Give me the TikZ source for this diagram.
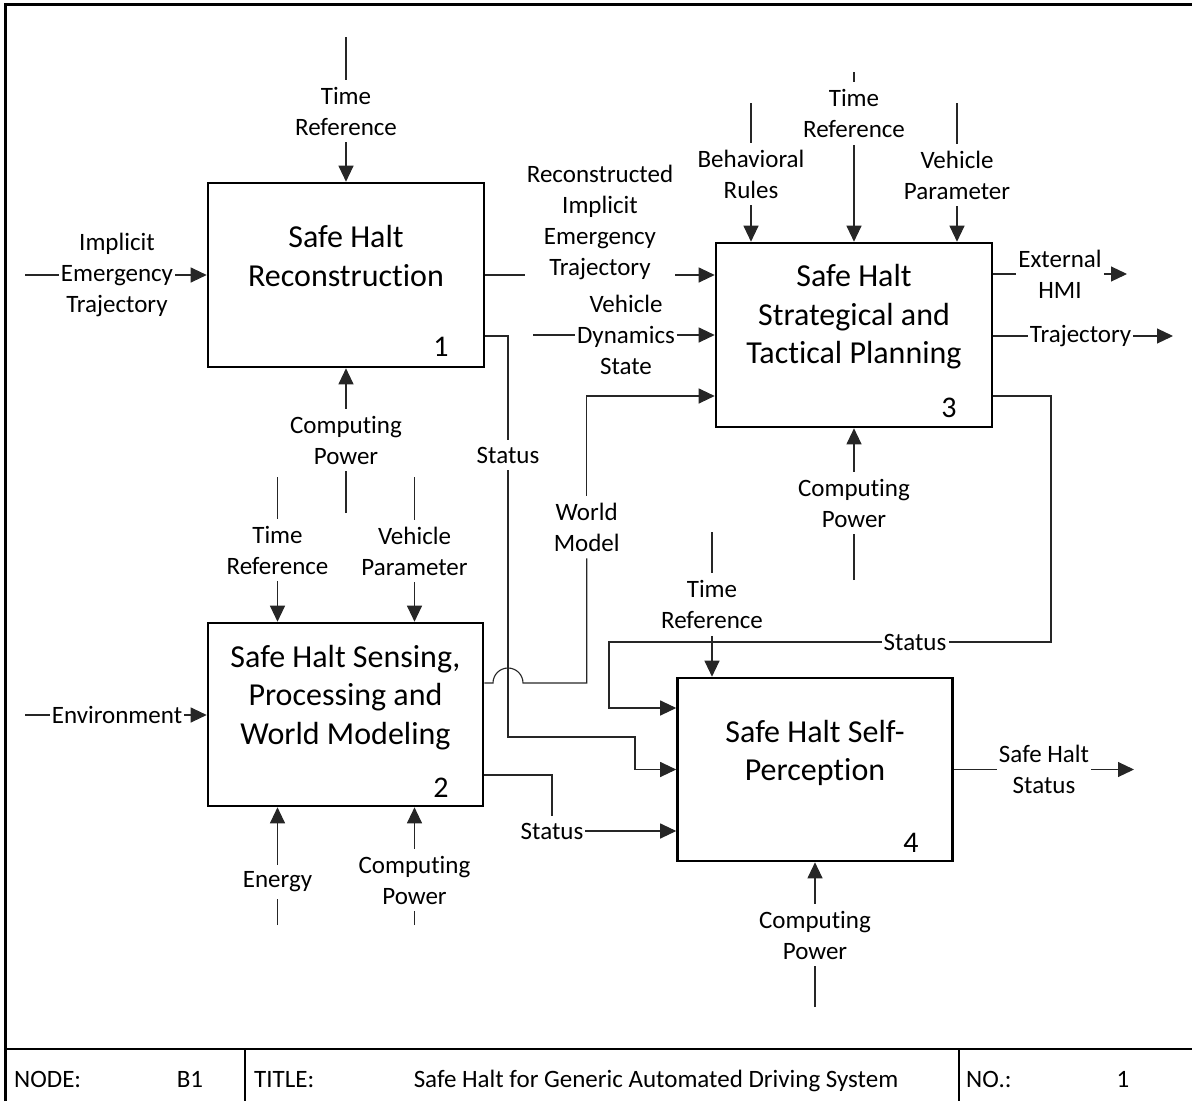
\documentclass[tikz,border=0pt]{standalone}
\usepackage{fontspec}
\setmainfont{Carlito}[Ligatures=NoCommon]
\usetikzlibrary{arrows.meta}
\begin{document}
\begin{tikzpicture}[x=1pt,y=-1pt,
  fn/.style={draw, line width=2.6pt, minimum width=275pt, minimum height=183pt, inner sep=0pt},
  ftitle/.style={align=center, font=\fontsize{32}{38.5}\selectfont, inner sep=0pt},
  fnum/.style={font=\fontsize{30}{36}\selectfont, inner sep=0pt},
  lbl/.style={align=center, font=\fontsize{25}{31}\selectfont, inner xsep=2pt, inner ysep=7pt},
  wire/.style={line width=1.1pt, draw=black!85},
  arr/.style={wire, -{Triangle[length=16pt,width=15pt]}},
  frame/.style={line width=3pt},
  cell/.style={font=\fontsize{25}{30}\selectfont, inner sep=0pt}
]
\useasboundingbox (0,0) rectangle (1192,1101);

% function boxes
\node[fn, minimum width=276pt, minimum height=184pt] (b1) at (346,275) {};
\node[fn] (b2) at (345.5,714.5) {};
\node[fn, minimum width=276pt, minimum height=184pt] (b3) at (854,335) {};
\node[fn] (b4) at (815,769.5) {};

\node[ftitle] (t1) at (346,256) {Safe Halt\\Reconstruction};
\node[ftitle] (t2) at (345.5,697.5) {Safe Halt Sensing,\\Processing and\\World Modeling};
\node[ftitle] (t3) at (854,317) {Safe Halt\\Strategical and\\Tactical Planning};
\node[ftitle] (t4) at (815,753) {Safe Halt Self-\\Perception};

\node[fnum] (n1) at (441,347) {1};
\node[fnum] (n2) at (441,788) {2};
\node[fnum] (n3) at (949,408) {3};
\node[fnum] (n4) at (911,843) {4};

% ---- box 1 ----
\coordinate (tr1a) at (346,37);
\node[lbl] (tr1) at (346,111) {Time\\Reference};
\draw[wire] (tr1a) -- (tr1);
\draw[arr] (tr1) -- (b1.north);

\coordinate (iet0) at (25,275);
\node[lbl] (iet) at (117,275) {Implicit\\Emergency\\Trajectory};
\draw[wire] (iet0) -- (iet);
\draw[arr] (iet) -- (b1.west |- iet);

\node[lbl] (cp1) at (346,440) {Computing\\Power};
\coordinate (cp1z) at (346,513);
\draw[wire] (cp1z) -- (cp1);
\draw[arr] (cp1) -- (b1.south);

\node[lbl] (rie) at (600,222) {Reconstructed\\Implicit\\Emergency\\Trajectory};
\draw[wire] (b1.east) -- (rie.west |- b1.east);
\draw[arr] (rie.east |- b1.east) -- (b3.west |- b1.east);

\node[lbl] (s1) at (508,455) {Status};
\draw[wire] ([yshift=-61pt]b1.east) -| (s1);
\draw[arr] (s1) -- (508,737) -- (635,737) |- (b4.west);

% ---- box 2 ----
\coordinate (tr2a) at (277.5,477);
\node[lbl] (tr2) at (277.5,550) {Time\\Reference};
\draw[wire] (tr2a) -- (tr2);
\draw[arr] (tr2) -- (tr2 |- b2.north);

\coordinate (vp2a) at (414.5,477);
\node[lbl] (vp2) at (414.5,551) {Vehicle\\Parameter};
\draw[wire] (vp2a) -- (vp2);
\draw[arr] (vp2) -- (vp2 |- b2.north);

\coordinate (env0) at (25,715);
\node[lbl] (env) at (117,715) {Environment};
\draw[wire] (env0) -- (env);
\draw[arr] (env) -- (b2.west |- env);

\node[lbl] (en) at (277.5,882) {Energy};
\coordinate (en0) at (277.5,925);
\draw[wire] (en0) -- (en);
\draw[arr] (en) -- (en |- b2.south);

\node[lbl] (cp2) at (414.5,880) {Computing\\Power};
\coordinate (cp2z) at (414.5,925);
\draw[wire] (cp2z) -- (cp2);
\draw[arr] (cp2) -- (cp2 |- b2.south);

\node[lbl] (wm) at (586.7,527) {World\\Model};
\draw[wire] ([yshift=31.5pt]b2.east) -- (493,683)
  arc[start angle=180, end angle=0, radius=15pt] -- (586.7,683) -- (wm);
\draw[arr] (wm) |- ([yshift=-61pt]b3.west);

\node[lbl] (s2) at (552,831) {Status};
\draw[wire] ([yshift=-60.5pt]b2.east) -| (s2);
\draw[arr] (s2) -- (s2 -| b4.west);

% ---- box 3 ----
\coordinate (br0) at (751,103);
\node[lbl] (br) at (751,174) {Behavioral\\Rules};
\draw[wire] (br0) -- (br);
\draw[arr] (br) -- (br |- b3.north);

\coordinate (tr3a) at (854,72);
\node[lbl] (tr3) at (854,113.5) {Time\\Reference};
\draw[wire] (tr3a) -- (tr3);
\draw[arr] (tr3) -- (b3.north);

\coordinate (vp3a) at (957,103);
\node[lbl] (vp3) at (957,175) {Vehicle\\Parameter};
\draw[wire] (vp3a) -- (vp3);
\draw[arr] (vp3) -- (vp3 |- b3.north);

\coordinate (vd0) at (533,335);
\node[lbl] (vd) at (626,335) {Vehicle\\Dynamics\\State};
\draw[wire] (vd0) -- (vd);
\draw[arr] (vd) -- (b3.west);

\node[lbl] (cp3) at (854,503) {Computing\\Power};
\coordinate (cp3z) at (854,580);
\draw[wire] (cp3z) -- (cp3);
\draw[arr] (cp3) -- (b3.south);

\node[lbl] (hmi) at (1060,274) {External\\HMI};
\coordinate (hmi1) at (1127,274);
\draw[wire] ([yshift=61pt]b3.east) -- (hmi);
\draw[arr] (hmi) -- (hmi1);

\node[lbl] (trj) at (1080.6,336) {Trajectory};
\coordinate (trj1) at (1173,336);
\draw[wire] (b3.east |- trj) -- (trj);
\draw[arr] (trj) -- (trj1);

\node[lbl] (s3) at (915,642) {Status};
\draw[wire] ([yshift=-61pt]b3.east) -| (1051,642) -- (s3);
\draw[arr] (s3) -- (609,642) |- ([yshift=61.5pt]b4.west);

% ---- box 4 ----
\coordinate (tr4a) at (712,532);
\node[lbl] (tr4) at (712,604.5) {Time\\Reference};
\draw[wire] (tr4a) -- (tr4);
\draw[arr] (tr4) -- (tr4 |- b4.north);

\node[lbl] (cp4) at (815,935) {Computing\\Power};
\coordinate (cp4z) at (815,1007);
\draw[wire] (cp4z) -- (cp4);
\draw[arr] (cp4) -- (b4.south);

\node[lbl] (shs) at (1044,769.5) {Safe Halt\\Status};
\coordinate (shs1) at (1134,769.5);
\draw[wire] (b4.east) -- (shs);
\draw[arr] (shs) -- (shs1);

% ---- frame and title block ----
\draw[frame] (5.5,1101) -- (5.5,4.5) -- (1192,4.5);
\draw[line width=2.5pt] (5.5,1049) -- (1192,1049);
\draw[line width=2.5pt] (245,1049) -- (245,1101);
\draw[line width=2.5pt] (959,1049) -- (959,1101);

\node[cell, anchor=base west] (nodek) at (14,1087) {NODE:};
\node[cell, anchor=base] (nodev) at (190,1087) {B1};
\node[cell, anchor=base west] (titlek) at (254,1087) {TITLE:};
\node[cell, anchor=base] (titlev) at (656,1087) {Safe Halt for Generic Automated Driving System};
\node[cell, anchor=base west] (nok) at (966,1087) {NO.:};
\node[cell, anchor=base] (nov) at (1123,1087) {1};
\end{tikzpicture}
\end{document}
